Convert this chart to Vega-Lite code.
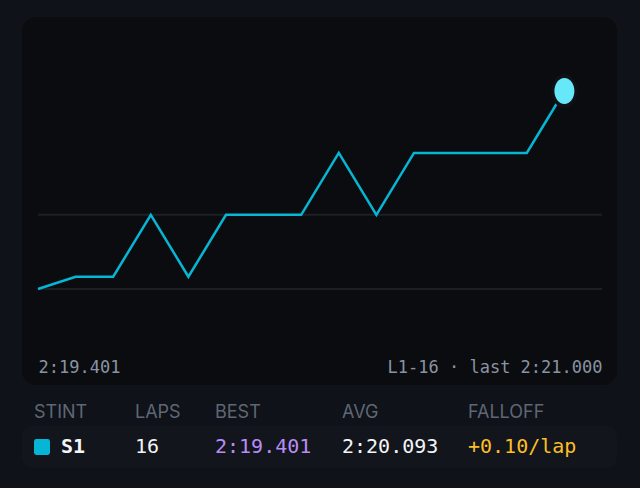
{
  "$schema": "https://vega.github.io/schema/vega-lite/v6.json",
  "background": "#0f1218",
  "padding": {"left": 22, "top": 17, "right": 23, "bottom": 20},
  "config": {"view": {"stroke": null}},
  "datasets": {
    "laps": [
      {"lap": 1, "sec": 139.401},
      {"lap": 2, "sec": 139.5},
      {"lap": 3, "sec": 139.5},
      {"lap": 4, "sec": 140.0},
      {"lap": 5, "sec": 139.5},
      {"lap": 6, "sec": 140.0},
      {"lap": 7, "sec": 140.0},
      {"lap": 8, "sec": 140.0},
      {"lap": 9, "sec": 140.5},
      {"lap": 10, "sec": 140.0},
      {"lap": 11, "sec": 140.5},
      {"lap": 12, "sec": 140.5},
      {"lap": 13, "sec": 140.5},
      {"lap": 14, "sec": 140.5},
      {"lap": 15, "sec": 141.0}
    ],
    "grid": [{"sec": 139.401}, {"sec": 140.0}],
    "stint": [
      {"i": 0, "col": "STINT", "val": "S1"},
      {"i": 1, "col": "LAPS", "val": "16"},
      {"i": 2, "col": "BEST", "val": "2:19.401"},
      {"i": 3, "col": "AVG", "val": "2:20.093"},
      {"i": 4, "col": "FALLOFF", "val": "+0.10/lap"}
    ]
  },
  "resolve": {"scale": {"x": "independent", "y": "independent", "color": "independent"}},
  "spacing": 13,
  "vconcat": [
    {
      "width": 595,
      "height": 368,
      "view": {"fill": "#0b0c10", "cornerRadius": 14, "stroke": null},
      "layer": [
        {
          "data": {"name": "grid"},
          "mark": {"type": "rule", "color": "#1c1f25", "strokeWidth": 2},
          "encoding": {
            "x": {"datum": 1, "type": "quantitative", "scale": {"domain": [1, 16], "range": [16, 580], "zero": false, "nice": false}},
            "x2": {"datum": 16},
            "y": {"field": "sec", "type": "quantitative", "scale": {"domain": [139.401, 141], "range": [272, 74], "zero": false, "nice": false}, "axis": null}
          }
        },
        {
          "data": {"name": "laps"},
          "mark": {"type": "line", "color": "#06b6d4", "strokeWidth": 2.5},
          "encoding": {
            "x": {
              "field": "lap", "type": "quantitative",
              "scale": {"domain": [1, 16], "range": [16, 580], "zero": false, "nice": false},
              "axis": {
                "values": [1, 16],
                "labelExpr": "datum.value == 1 ? '2:19.401' : 'L1-16 · last 2:21.000'",
                "labelFlush": true,
                "labelLimit": 500,
                "labelFont": "DejaVu Sans Mono",
                "labelFontSize": 17,
                "labelColor": "#8a93a2",
                "labelBaseline": "alphabetic",
                "labelPadding": 0,
                "labelOverlap": false,
                "ticks": false,
                "tickSize": 0,
                "domain": false,
                "grid": false,
                "title": null,
                "offset": -13
              }
            },
            "y": {"field": "sec", "type": "quantitative", "scale": {"domain": [139.401, 141], "range": [272, 74], "zero": false, "nice": false}, "axis": null}
          }
        },
        {
          "data": {"name": "laps"},
          "transform": [{"filter": "datum.lap == 15"}],
          "mark": {"type": "point", "filled": true, "opacity": 1, "color": "#0f1116", "size": 1156, "shape": "M -0.78 0 A 0.78 1 0 1 1 0.78 0 A 0.78 1 0 1 1 -0.78 0 Z"},
          "encoding": {
            "x": {"field": "lap", "type": "quantitative"},
            "y": {"field": "sec", "type": "quantitative", "axis": null}
          }
        },
        {
          "data": {"name": "laps"},
          "transform": [{"filter": "datum.lap == 15"}],
          "mark": {"type": "point", "filled": true, "opacity": 1, "color": "#67e8f9", "size": 676, "shape": "M -0.77 0 A 0.77 1 0 1 1 0.77 0 A 0.77 1 0 1 1 -0.77 0 Z"},
          "encoding": {
            "x": {"field": "lap", "type": "quantitative"},
            "y": {"field": "sec", "type": "quantitative", "axis": null}
          }
        }
      ]
    },
    {
      "spacing": 1,
      "vconcat": [
        {
          "width": 595,
          "height": 27,
          "data": {"name": "stint"},
          "mark": {"type": "text", "align": "left", "baseline": "middle", "font": "Inter", "fontSize": 18, "color": "#5f6775", "dy": 1},
          "encoding": {
            "x": {"field": "i", "type": "quantitative", "scale": {"domain": [0, 1, 2, 3, 4], "range": [12, 113, 193, 320, 446], "zero": false, "nice": false}, "axis": null},
            "text": {"field": "col"}
          }
        },
        {
          "width": 595,
          "height": 42,
          "view": {"fill": "#12151c", "cornerRadius": 10, "stroke": null},
          "data": {"name": "stint"},
          "encoding": {
            "x": {"field": "i", "type": "quantitative", "scale": {"domain": [0, 1, 2, 3, 4], "range": [12, 113, 193, 320, 446], "zero": false, "nice": false}, "axis": null}
          },
          "layer": [
            {
              "transform": [{"filter": "datum.col == 'STINT'"}],
              "mark": {"type": "point", "filled": true, "opacity": 1, "color": "#06b6d4", "size": 256, "xOffset": 8, "shape": "M -0.7 -1 L 0.7 -1 Q 1 -1 1 -0.7 L 1 0.7 Q 1 1 0.7 1 L -0.7 1 Q -1 1 -1 0.7 L -1 -0.7 Q -1 -1 -0.7 -1 Z"}
            },
            {
              "transform": [{"filter": "datum.col == 'STINT'"}],
              "mark": {"type": "text", "align": "left", "baseline": "middle", "font": "DejaVu Sans Mono", "fontSize": 20, "fontWeight": "bold", "color": "#f3f4f6", "dx": 27},
              "encoding": {"text": {"field": "val"}}
            },
            {
              "transform": [{"filter": "datum.col != 'STINT'"}],
              "mark": {"type": "text", "align": "left", "baseline": "middle", "font": "DejaVu Sans Mono", "fontSize": 20},
              "encoding": {
                "text": {"field": "val"},
                "color": {"field": "col", "type": "nominal", "scale": {"domain": ["LAPS", "BEST", "AVG", "FALLOFF"], "range": ["#f3f4f6", "#b98cf5", "#f3f4f6", "#fbbf24"]}, "legend": null}
              }
            }
          ]
        }
      ]
    }
  ]
}
